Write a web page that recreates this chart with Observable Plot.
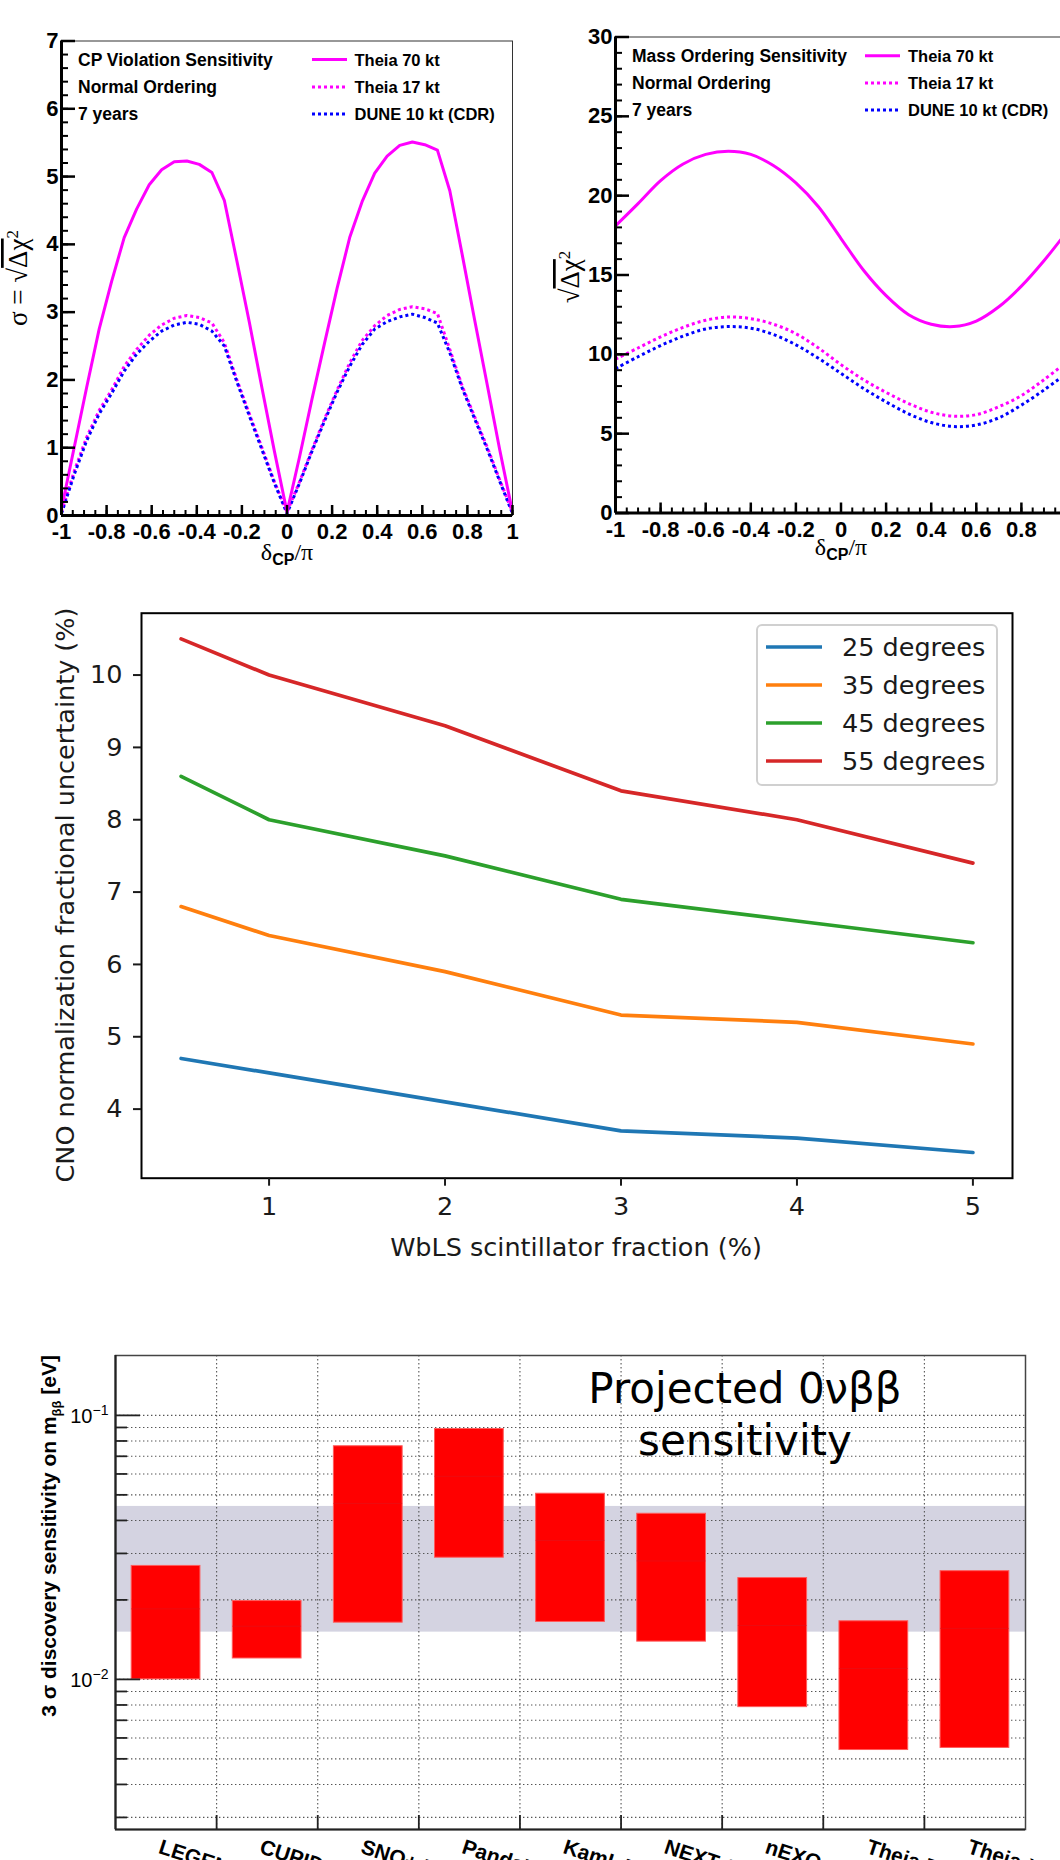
<!DOCTYPE html>
<html>
<head>
<meta charset="utf-8">
<script src="https://cdn.jsdelivr.net/npm/d3@7"></script>
<script src="https://cdn.jsdelivr.net/npm/@observablehq/plot@0.6"></script>
<style>
  html, body { margin:0; padding:0; background:#fff; }
  body { width:1060px; height:1860px; overflow:hidden; position:relative; }
  .panel { position:absolute; }
  #ov { position:absolute; left:0; top:0; pointer-events:none; }
</style>
</head>
<body>
<div id="p1" class="panel" style="left:0px;top:0px"></div>
<div id="p2" class="panel" style="left:540px;top:0px"></div>
<div id="p3" class="panel" style="left:0px;top:590px"></div>
<div id="p4" class="panel" style="left:0px;top:1330px"></div>
<svg id="ov" width="1060" height="1860"></svg>
<script>
// ---------------- DATA ----------------
// Panel 1: CP violation sensitivity (delta_CP / pi)
const cpX = [-1,-0.944,-0.889,-0.833,-0.778,-0.722,-0.667,-0.611,-0.556,-0.5,-0.444,-0.389,-0.333,-0.278,-0.222,-0.167,-0.111,-0.056,0,
             0.056,0.111,0.167,0.222,0.278,0.333,0.389,0.444,0.5,0.556,0.611,0.667,0.722,0.778,0.833,0.889,0.944,1];
const cpTheia70 = [0.1,1.0,1.88,2.75,3.45,4.1,4.52,4.88,5.1,5.22,5.23,5.18,5.06,4.65,3.75,2.85,1.88,0.95,0.05,
                   0.87,1.72,2.55,3.35,4.1,4.63,5.05,5.3,5.46,5.51,5.47,5.39,4.79,3.83,2.87,1.91,0.96,0.05];
const cpTheia17 = [0.05,0.65,1.15,1.55,1.85,2.2,2.45,2.66,2.81,2.91,2.95,2.92,2.84,2.55,2.0,1.5,1.0,0.5,0.05,
                   0.5,0.97,1.43,1.85,2.25,2.58,2.8,2.95,3.04,3.08,3.05,2.98,2.45,1.9,1.45,1.0,0.52,0.05];
const cpDune = [0.03,0.6,1.1,1.5,1.8,2.13,2.38,2.57,2.72,2.81,2.85,2.82,2.72,2.5,1.97,1.47,0.97,0.48,0.03,
                0.48,0.95,1.4,1.82,2.2,2.52,2.75,2.86,2.93,2.97,2.92,2.84,2.4,1.87,1.42,0.97,0.5,0.03];
// Panel 2: mass ordering sensitivity
const moX = [-1,-0.9,-0.8,-0.7,-0.6,-0.5,-0.4,-0.3,-0.2,-0.1,0,0.1,0.2,0.3,0.4,0.5,0.6,0.7,0.8,0.9,1];
const moTheia70 = [18.1,19.5,20.95,22.0,22.6,22.8,22.6,21.9,20.8,19.3,17.3,15.3,13.7,12.5,11.9,11.75,12.1,13.0,14.3,15.9,17.7];
const moTheia17 = [9.7,10.4,11.1,11.7,12.15,12.35,12.25,11.9,11.3,10.4,9.35,8.4,7.6,6.9,6.35,6.1,6.2,6.7,7.4,8.4,9.5];
const moDune    = [9.1,9.85,10.55,11.15,11.6,11.75,11.65,11.25,10.6,9.75,8.8,7.85,7.0,6.25,5.7,5.45,5.55,6.0,6.8,7.75,8.8];
const nuSeries = ["Theia 70 kt","Theia 17 kt","DUNE 10 kt (CDR)"];
const cpTitle = ["CP Violation Sensitivity","Normal Ordering","7 years"];
const moTitle = ["Mass Ordering Sensitivity","Normal Ordering","7 years"];
const cpXTicks = [-1,-0.8,-0.6,-0.4,-0.2,0,0.2,0.4,0.6,0.8,1];
const cpYTicks = [0,1,2,3,4,5,6,7];
const moYTicks = [0,5,10,15,20,25,30];

// Panel 3: CNO normalization uncertainty
const cnoX = [0.5,1,2,3,4,5];
const cnoAngles = ["25 degrees","35 degrees","45 degrees","55 degrees"];
const cno25 = [4.7,4.5,4.1,3.7,3.6,3.4];
const cno35 = [6.8,6.4,5.9,5.3,5.2,4.9];
const cno45 = [8.6,8.0,7.5,6.9,6.6,6.3];
const cno55 = [10.5,10.0,9.3,8.4,8.0,7.4];
const cnoXTicks = [1,2,3,4,5];
const cnoYTicks = [4,5,6,7,8,9,10];

// Panel 4: 0vbb sensitivity
const bbExperiments = ["LEGEND 1000","CUPID","SNO+ II","PandaX-III","KamLAND2-Zen","NEXT 1t","nEXO","Theia-Te","Theia-Xe"];
const bbLow  = [0.0100,0.0120,0.0164,0.0289,0.0165,0.0139,0.00785,0.0054,0.0055];
const bbHigh = [0.0269,0.0198,0.0764,0.0888,0.0505,0.0424,0.0242,0.0166,0.0257];
const bbMid  = [0.0185,0.0159,0.0464,0.0588,0.0336,0.0281,0.0160,0.0110,0.0156];
const bbBand = [0.0151,0.0452];
const bbMajor = [0.01,0.1];
const bbMajorExp = ["\u22122","\u22121"];
const bbMinor = [0.003,0.004,0.005,0.006,0.007,0.008,0.009,0.02,0.03,0.04,0.05,0.06,0.07,0.08,0.09];

// ---------------- STYLE ----------------
const ROOTF = "'Liberation Sans', Arial, Helvetica, sans-serif";
const SERIF = "'Liberation Serif', 'Times New Roman', serif";
const DJV = "'DejaVu Sans', Verdana, sans-serif";
const nuColors = ["#ff00ff","#ff00ff","#0000ff"];
const nuDash = [null,"3,3","3,3"];
const cnoColors = ["#1f77b4","#ff7f0e","#2ca02c","#d62728"];
const TICKFONT = 22;

function rows(xs, ys) { return xs.map((x,i)=>({x, y: ys[i]})); }

function rootPanel(o) {
  const iw = o.W-o.ML-o.MR, ih = o.H-o.MT-o.MB;
  const order = [1,2,0]; // dotted first, solid on top
  return Plot.plot({
    width:o.W, height:o.H, marginLeft:o.ML, marginRight:o.MR, marginTop:o.MT, marginBottom:o.MB,
    style:{background:"transparent", maxWidth:"none", overflow:"visible", fontFamily:ROOTF, fontWeight:"bold", fontSize:TICKFONT+"px", color:"#000"},
    x:{domain:o.xDomain, axis:null},
    y:{domain:o.yDomain, axis:null},
    marks:[
      ...order.map(k => Plot.line(rows(o.xs, o.ys[k]), {x:"x", y:"y", stroke:nuColors[k], strokeWidth:3, strokeDasharray:nuDash[k],
                                 strokeLinecap: nuDash[k] ? "butt" : "round", curve:o.curve, clip:true})),
      Plot.frame({stroke:"#333", strokeWidth:1}),
      Plot.ruleX(o.xMinor, {x:d=>d, insetTop:ih-5, stroke:"#000", strokeWidth:2}),
      Plot.ruleX(o.xTicks, {x:d=>d, insetTop:ih-10, stroke:"#000", strokeWidth:2.5}),
      Plot.ruleY(o.yMinor, {y:d=>d, insetRight:iw-7, stroke:"#000", strokeWidth:2}),
      Plot.ruleY(o.yTicks, {y:d=>d, insetRight:iw-14, stroke:"#000", strokeWidth:2.5}),
      Plot.ruleX([o.xDomain[0]], {x:d=>d, stroke:"#000", strokeWidth:3}),
      Plot.ruleY([o.yDomain[0]], {y:d=>d, stroke:"#000", strokeWidth:3}),
      Plot.axisX({ticks:o.xTicks, tickSize:0, tickPadding:8, tickFormat:d=>String(d), label:null, fontSize:TICKFONT, fontWeight:"bold"}),
      Plot.axisY({ticks:o.yTicks, tickSize:0, tickPadding:3, tickFormat:d=>String(d), label:null, fontSize:TICKFONT, fontWeight:"bold"})
    ]
  });
}

// Panel 1
document.getElementById("p1").appendChild(rootPanel({
  W:530, H:580, ML:61, MR:18, MT:40.5, MB:65,
  xDomain:[-1,1], yDomain:[0,7], xs:cpX, ys:[cpTheia70,cpTheia17,cpDune], curve:"linear",
  xTicks:cpXTicks, xMinor:d3.range(-1,1.0001,0.05), yTicks:cpYTicks, yMinor:d3.range(0,7.0001,0.2)
}));
// Panel 2
document.getElementById("p2").appendChild(rootPanel({
  W:560, H:580, ML:75, MR:34, MT:36.5, MB:67.5,
  xDomain:[-1,1], yDomain:[0,30], xs:moX, ys:[moTheia70,moTheia17,moDune], curve:"catmull-rom",
  xTicks:cpXTicks, xMinor:d3.range(-1,1.0001,0.05), yTicks:moYTicks, yMinor:d3.range(0,30.001,1)
}));

// Panel 3
const cnoYs = [cno25,cno35,cno45,cno55];
document.getElementById("p3").appendChild(Plot.plot({
  width:1060, height:700, marginLeft:141, marginRight:48, marginTop:22.7, marginBottom:112.3,
  style:{background:"transparent", maxWidth:"none", overflow:"visible", fontFamily:DJV, fontSize:"25.5px", color:"#1a1a1a"},
  x:{domain:[0.275,5.225], axis:null},
  y:{domain:[3.045,10.855], axis:null},
  marks:[
    ...cnoYs.map((ys,k)=>Plot.line(rows(cnoX, ys), {x:"x", y:"y", stroke:cnoColors[k], strokeWidth:3.7})),
    Plot.frame({stroke:"#000", strokeWidth:2}),
    Plot.axisX({ticks:cnoXTicks, tickSize:8, tickPadding:11, strokeWidth:2, tickFormat:d=>String(d), label:null, fontSize:25.5}),
    Plot.axisY({ticks:cnoYTicks, tickSize:8, tickPadding:11, strokeWidth:2, tickFormat:d=>String(d), label:null, fontSize:25.5})
  ]
}));

// Panel 4
const bbRows = bbExperiments.map((name,i)=>({name, i, lo:bbLow[i], hi:bbHigh[i], mid:bbMid[i]}));
const W4=1060, H4=530, ML4=115, MR4=35, MT4=25, MB4=31;
const iw4 = W4-ML4-MR4, ih4 = H4-MT4-MB4;
const gridStyle = {stroke:"#555", strokeWidth:1.1, strokeDasharray:"1.4,2.6"};
document.getElementById("p4").appendChild(Plot.plot({
  width:W4, height:H4, marginLeft:ML4, marginRight:MR4, marginTop:MT4, marginBottom:MB4,
  style:{background:"transparent", maxWidth:"none", overflow:"visible", fontFamily:ROOTF, color:"#000"},
  x:{domain:[0, bbExperiments.length], axis:null},
  y:{type:"log", domain:[0.0027,0.1686], axis:null},
  marks:[
    Plot.rect([{lo:bbBand[0], hi:bbBand[1]}], {y1:"lo", y2:"hi", fill:"#d4d3e1"}),
    Plot.ruleY(bbMinor.concat(bbMajor), {y:d=>d, ...gridStyle}),
    Plot.ruleX(d3.range(1, bbExperiments.length), {x:d=>d, ...gridStyle}),
    Plot.rect(bbRows, {x1:d=>d.i+0.16, x2:d=>d.i+0.84, y1:"lo", y2:"hi", fill:"#ff0000", stroke:"#ff5c5c", strokeWidth:1}),
    Plot.ruleY(bbRows, {y:"mid", x1:d=>d.i+0.16, x2:d=>d.i+0.84, stroke:"#e0141c", strokeWidth:1, strokeOpacity:0.6}),
    Plot.frame({stroke:"#444", strokeWidth:1.5}),
    Plot.ruleX([0], {x:d=>d, stroke:"#222", strokeWidth:2.2}),
    Plot.ruleY([0.0027], {y:d=>d, stroke:"#222", strokeWidth:2.2}),
    Plot.ruleX(d3.range(1, bbExperiments.length), {x:d=>d, insetTop:ih4-14, stroke:"#222", strokeWidth:1.8}),
    Plot.ruleY(bbMinor, {y:d=>d, insetRight:iw4-12, stroke:"#222", strokeWidth:1.8}),
    Plot.ruleY(bbMajor, {y:d=>d, insetRight:iw4-25, stroke:"#222", strokeWidth:1.8}),
    Plot.text(bbMajor, {y:d=>d, text:()=>"10", frameAnchor:"left", dx:-23, dy:1, textAnchor:"end", fontSize:20, fontFamily:ROOTF}),
    Plot.text(bbMajor, {y:d=>d, text:(d,i)=>bbMajorExp[i], frameAnchor:"left", dx:-23, dy:-5, textAnchor:"start", fontSize:14, fontFamily:ROOTF}),
    Plot.text(bbRows, {x:d=>d.i+0.5, text:"name", frameAnchor:"bottom", dx:-4, dy:9, rotate:18, textAnchor:"start", lineAnchor:"top", fontSize:21, fontWeight:"bold", fontFamily:ROOTF})
  ]
}));

// ---------------- OVERLAY TEXT / LEGENDS ----------------
const ov = d3.select("#ov");
function rootLegend(x0, textX, titleX, baselines, titles) {
  const g = ov.append("g").attr("font-family", ROOTF).attr("font-weight","bold").attr("fill","#000");
  titles.forEach((s,i)=> g.append("text").attr("x", titleX).attr("y", baselines[i]).attr("font-size", 17.5).text(s));
  nuSeries.forEach((s,i)=>{
    g.append("line").attr("x1", x0).attr("x2", x0+35).attr("y1", baselines[i]-6).attr("y2", baselines[i]-6)
      .attr("stroke", nuColors[i]).attr("stroke-width", 3).attr("stroke-dasharray", nuDash[i]);
    g.append("text").attr("x", textX).attr("y", baselines[i]).attr("font-size", 16.5).text(s);
  });
}
rootLegend(312, 354.5, 78, [65.5,93,120], cpTitle);
rootLegend(865, 908, 632, [61.7,89,116], moTitle);

function dcpTitle(cx, y) {
  const t = ov.append("text").attr("x", cx).attr("y", y).attr("text-anchor","middle").attr("font-family", SERIF).attr("font-size", 24);
  t.append("tspan").text("\u03b4");
  t.append("tspan").attr("font-family", ROOTF).attr("font-weight","bold").attr("font-size", 16).attr("dy", 5).text("CP");
  t.append("tspan").attr("dy", -5).text("/\u03c0");
}
dcpTitle(287, 560);
dcpTitle(841, 555);

function sqrtTitle(x, y, prefix) {
  const t = ov.append("text").attr("transform", `translate(${x},${y}) rotate(-90)`).attr("text-anchor","middle")
    .attr("font-family", SERIF).attr("font-size", 27);
  t.append("tspan").text(prefix + "\u221a");
  t.append("tspan").attr("style","text-decoration: overline").text("\u0394\u03c7");
  t.append("tspan").attr("baseline-shift","super").attr("font-size", 17).text("2");
}
sqrtTitle(27, 278, "\u03c3 = ");
sqrtTitle(579, 277, "");

// Panel 3 legend and labels
const g3 = ov.append("g").attr("font-family", DJV).attr("font-size", 25.5).attr("fill","#1a1a1a");
g3.append("rect").attr("x",757).attr("y",625).attr("width",240).attr("height",160).attr("rx",5)
  .attr("fill","#fff").attr("fill-opacity",0.8).attr("stroke","#d0d0d0").attr("stroke-width",2);
cnoAngles.forEach((s,i)=>{
  const b = 656 + i*38;
  g3.append("line").attr("x1",766).attr("x2",822).attr("y1",b-9).attr("y2",b-9).attr("stroke",cnoColors[i]).attr("stroke-width",3.7);
  g3.append("text").attr("x",842).attr("y",b).text(s);
});
g3.append("text").attr("x", 576).attr("y", 1256).attr("text-anchor","middle").text("WbLS scintillator fraction (%)");
g3.append("text").attr("transform","translate(74,895) rotate(-90)").attr("text-anchor","middle").text("CNO normalization fractional uncertainty (%)");

// Panel 4 title and y label
const g4 = ov.append("g").attr("font-family", DJV).attr("font-size", 42).attr("fill","#000").attr("text-anchor","middle");
g4.append("text").attr("x",745).attr("y",1403).text("Projected 0\u03bd\u03b2\u03b2");
g4.append("text").attr("x",745).attr("y",1455).text("sensitivity");
const yl = ov.append("text").attr("transform","translate(56,1355) rotate(-90)").attr("text-anchor","end")
  .attr("font-family", ROOTF).attr("font-weight","bold").attr("font-size", 21).attr("fill","#000");
yl.append("tspan").text("3 \u03c3 discovery sensitivity on m");
yl.append("tspan").attr("font-size", 13).attr("dy", 5).text("\u03b2\u03b2");
yl.append("tspan").attr("dy", -5).text(" [eV]");
</script>
</body>
</html>
